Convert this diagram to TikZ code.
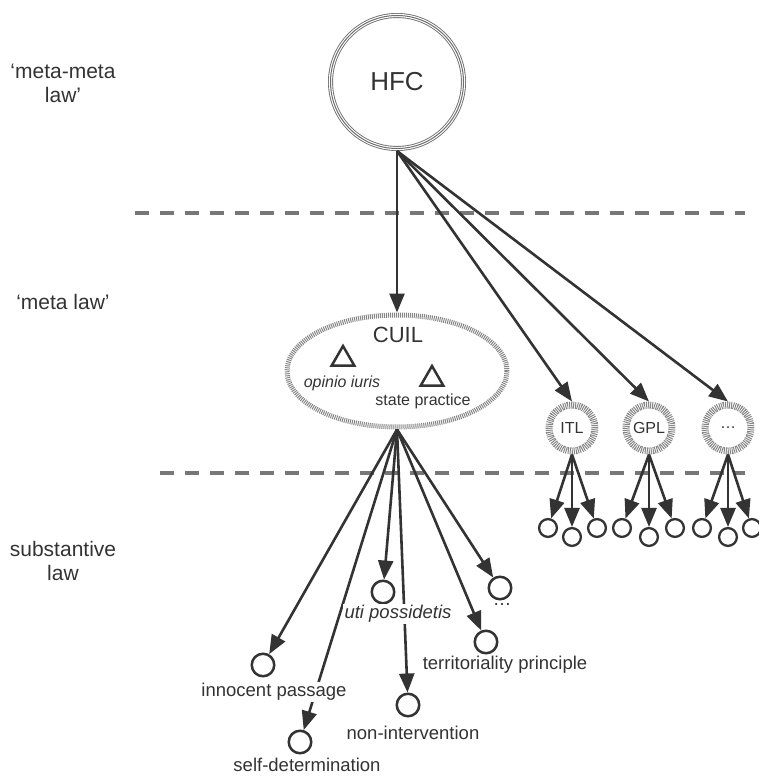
\documentclass[tikz,border=0pt]{standalone}
\usepackage{fontspec}
\setmainfont{Liberation Sans}
\usetikzlibrary{shapes.geometric}
\usetikzlibrary{arrows.meta}

\definecolor{ink}{HTML}{333333}
\definecolor{ringgray}{HTML}{6E6E6E}
\definecolor{hatchgray}{HTML}{858585}
\definecolor{dashgray}{HTML}{777777}

\tikzset{
  divider/.style={draw=dashgray, line width=3.5pt, dash pattern=on 14pt off 11pt},
  sidelbl/.style={align=center, text=ink, font=\fontsize{21}{24}\selectfont},
  hfcring/.style={circle, minimum size=133pt, draw=ringgray, line width=5pt,
    postaction={draw=white, line width=3.2pt},
    postaction={draw=ringgray, line width=1pt},
    text=ink, font=\fontsize{26}{28}\selectfont},
  hashed/.style={draw=hatchgray, line width=5pt, dash pattern=on 1pt off 1pt},
  midring/.style={circle, hashed, line width=7pt, minimum size=46pt, inner sep=0pt,
    text=ink, font=\fontsize{16}{18}\selectfont},
  tri/.style={regular polygon, regular polygon sides=3, draw=ink, line width=2.5pt,
    minimum size=26pt, inner sep=0pt},
  normdot/.style={circle, draw=ink, line width=2.5pt, minimum size=22.5pt, inner sep=0pt},
  subdot/.style={circle, draw=ink, line width=2.3pt, minimum size=17.8pt, inner sep=0pt},
  arr/.style={draw=ink, line width=2.6pt, -{Triangle[length=19pt,width=15pt]}},
  lbl/.style={text=ink, fill=white, inner sep=1.5pt, font=\fontsize{18.5}{20}\selectfont},
  small/.style={text=ink, inner sep=1pt, font=\fontsize{16}{18}\selectfont},
}

\begin{document}
\begin{tikzpicture}[x=1pt, y=-1pt]
\useasboundingbox (0,0) rectangle (758,776);

% levels
\draw[divider] (135,213) -- (745,213);
\draw[divider] (160,473) -- (745,473);
\node[sidelbl] (mml) at (63,83) {‘meta-meta\\law’};
\node[sidelbl] (ml) at (63,302) {‘meta law’};
\node[sidelbl] (sl) at (63,561) {substantive\\law};

% meta-meta law
\node[hfcring] (hfc) at (397,82) {HFC};

% meta law
\node[hashed, ellipse, minimum width=220pt, minimum height=112pt] (cuil) at (397,371) {};
\node[text=ink, font=\fontsize{22}{24}\selectfont] (cuiltxt) at (398,335) {CUIL};
\node[tri] (oitri) at (343,359) {};
\node[tri] (sptri) at (432,379) {};
\node[small] (oi) at (342,383) {\itshape opinio iuris};
\node[small] (sp) at (423,401) {state practice};

\node[midring] (itl) at (572,428) {ITL};
\node[midring] (gpl) at (649,428) {GPL};
\node[midring] (etc) at (728,428) {\ldots};

\draw[arr] (hfc.south) -- (cuil.north);
\draw[arr] (hfc.south) -- (itl.north);
\draw[arr] (hfc.south) -- (gpl.north);
\draw[arr] (hfc.south) -- (etc.north);

% other regimes
\node[subdot] (itl1) at (548,528) {}; \node[subdot] (itl2) at (572,537) {}; \node[subdot] (itl3) at (597,528) {};
\node[subdot] (gpl1) at (622,528) {}; \node[subdot] (gpl2) at (649,537) {}; \node[subdot] (gpl3) at (675,528) {};
\node[subdot] (etc1) at (702,528) {}; \node[subdot] (etc2) at (728,537) {}; \node[subdot] (etc3) at (752,528) {};

\draw[arr] (itl.south) -- (itl1); \draw[arr] (itl.south) -- (itl2); \draw[arr] (itl.south) -- (itl3);
\draw[arr] (gpl.south) -- (gpl1); \draw[arr] (gpl.south) -- (gpl2); \draw[arr] (gpl.south) -- (gpl3);
\draw[arr] (etc.south) -- (etc1); \draw[arr] (etc.south) -- (etc2); \draw[arr] (etc.south) -- (etc3);

% substantive law
\node[normdot] (ip) at (263,665) {};
\node[normdot] (sd) at (300,742) {};
\node[normdot] (up) at (383,592) {};
\node[normdot] (ni) at (408,705) {};
\node[normdot] (tp) at (486,642) {};
\node[normdot] (more) at (500,588) {};

\draw[arr] (cuil.south) -- (ip);
\draw[arr] (cuil.south) -- (sd);
\draw[arr] (cuil.south) -- (up);
\draw[arr] (cuil.south) -- (ni);
\draw[arr] (cuil.south) -- (tp);
\draw[arr] (cuil.south) -- (more);

\node[lbl] (iplbl) at (274,692) {innocent passage};
\node[lbl] (sdlbl) at (307,765) {self-determination};
\node[lbl] (uplbl) at (398,614) {\itshape uti possidetis};
\node[lbl] (nilbl) at (413,733) {non-intervention};
\node[lbl] (tplbl) at (505,665) {territoriality principle};
\node[lbl] (morelbl) at (502,605) {\ldots};
\end{tikzpicture}
\end{document}
